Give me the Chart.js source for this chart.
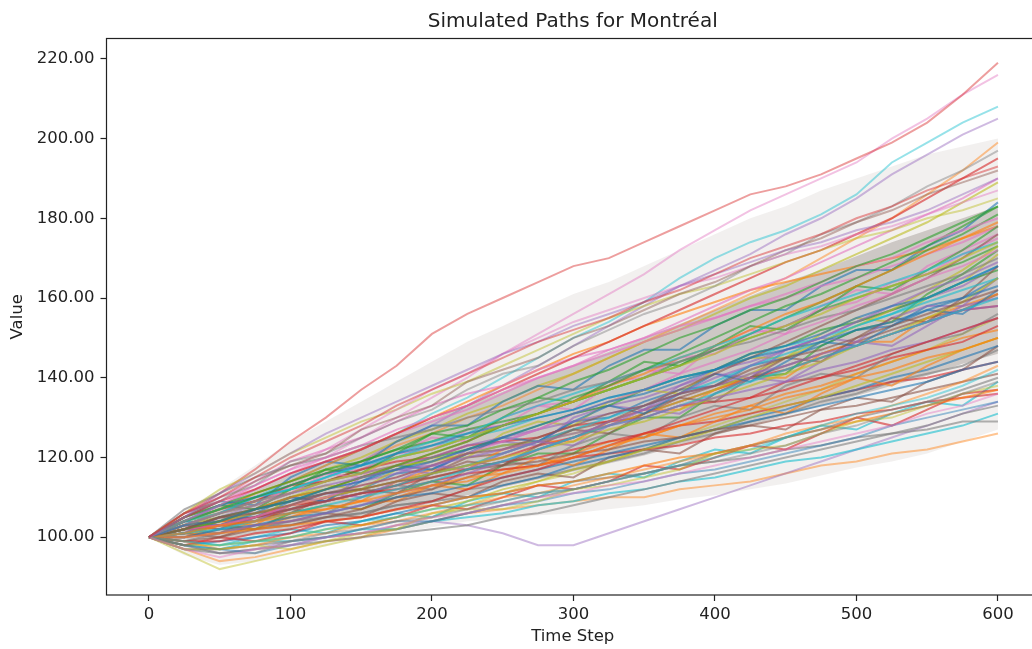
<!DOCTYPE html>
<html>
<head>
<meta charset="utf-8">
<title>Simulated Paths for Montréal</title>
<script src="https://cdn.jsdelivr.net/npm/chart.js@4.4.1/dist/chart.umd.min.js"></script>
<style>
  html, body { margin: 0; padding: 0; background: #fff; overflow: hidden; }
  canvas { display: block; }
</style>
</head>
<body>
<canvas id="myChart" width="1040" height="649"></canvas>
<script>
const steps = [0,25,50,75,100,125,150,175,200,225,250,275,300,325,350,375,400,425,450,475,500,525,550,575,600];

const xTicks = [0,100,200,300,400,500,600];
const yTicks = [100,120,140,160,180,200,220];

// spread of the dense bundle of paths (outer edge and the thick core)
const bandOuterTop    = [100,107,112,118,124,129,134,139,144,149,153,157,161,164,168,172,176,180,183,187,190,193,196,198,200];
const bandOuterBottom = [100,95.5,93,94,96.5,98,99.5,101,102.5,104,104.5,105.5,106,107,108,109.5,110.5,112,113.5,115.5,117.5,119,121,124,127];
const bandCoreTop     = [100,104.5,108,112,116,119,122.5,126,129.5,133,136.5,140,143,146.5,150,153.5,157,160.5,164,167,170.5,174,177,180,183];
const bandCoreBottom  = [100,99.5,99.5,100.5,102,103.5,105,106.5,108.5,110.5,112.5,114.5,116.5,118.5,120.5,123,125.5,128,130.5,133,135.5,138,140.5,143.5,146];

// paths that stick out of the bundle
const pathTopRed    = [100,106,111,117,124,130,137,143,151,156,160,164,168,170,174,178,182,186,188,191,195,199,204,211,219];
const pathTopPink   = [100,104,108,112,116,120,125,130,135,140,146,151,156,161,166,172,177,182,186,190,194,200,205,211,216];
const pathTopCyan   = [100,103,106,110,114,118,122,126,131,135,140,145,150,154,159,165,170,174,177,181,186,194,199,204,208];
const pathTopPurple = [100,102,105,108,111,115,119,124,128,133,138,143,148,153,158,163,167,171,176,180,185,191,196,201,205];
const pathTopOrange = [100,103,106,109,113,116,119,123,126,130,133,137,141,145,149,153,157,161,165,170,175,180,186,192,199];
const pathLowPurple = [100,98,96,97,99,100,101,103,104,103,101,98,98,101,104,107,110,113,116,119,122,125,128,131,134];
const pathLowOrange = [100,97,94,95,97,99,100,102,104,106,107,108,109,110,110,112,113,114,116,118,119,121,122,124,126];
const pathEarlyDip  = [100,96,92,94,96,98,100,103,105,108,111,114,116,119,122,125,128,131,134,137,141,144,147,151,155];

// paths along the upper and lower fringe of the bundle
const pathsUpper = [
  [100,106,110,115,120,124,128,133,137,141,145,149,152,155,159,162,166,170,173,176,180,183,187,190,193],
  [100,105,111,116,121,126,130,134,138,142,146,149,153,156,159,163,166,169,172,174,177,179,182,186,190],
  [100,106,109,114,118,121,127,130,133,139,142,145,150,153,157,161,164,168,172,175,179,182,186,189,192],
  [100,104,108,113,117,122,127,132,137,141,146,150,154,157,160,163,165,168,171,173,176,178,181,184,187],
  [100,105,110,113,119,121,125,129,132,137,141,143,148,152,156,159,163,168,171,176,179,183,188,192,197],
  [100,106,112,116,121,125,129,132,136,139,143,147,151,155,158,161,163,166,169,172,175,177,180,182,185]
];
const pathsLower = [
  [100,97,95,97,98,100,101,103,105,106,108,110,111,113,114,116,118,120,122,124,126,128,131,133,136],
  [100,98,96,96,99,101,102,104,105,107,109,111,112,114,116,118,119,121,123,126,128,131,133,136,139],
  [100,97,97,98,97,99,101,102,106,107,107,109,112,113,115,117,121,122,123,126,129,130,133,136,138],
  [100,99,98,99,100,102,104,105,107,108,109,111,112,114,116,118,120,122,125,128,131,133,135,138,142],
  [100,98,97,96,98,100,102,104,104,106,108,109,111,112,114,116,117,119,121,123,125,128,130,132,134],
  [100,99,97,98,100,101,103,104,106,108,110,111,113,115,117,119,121,123,126,128,130,133,136,139,143]
];

// paths inside the bundle
const paths = [
  [100,103,104,107,109,112,114,117,119,122,125,128,131,134,136,139,142,146,148,151,155,158,160,164,168],
  [100,101,103,104,106,107,109,111,113,115,116,118,120,123,125,128,130,132,135,137,140,142,145,147,150],
  [100,104,107,110,113,116,119,122,126,128,132,135,139,142,146,150,153,157,160,164,168,171,175,179,183],
  [100,99,99,101,102,104,105,107,109,112,115,117,120,123,126,129,132,135,137,140,143,146,149,152,155],
  [100,103,106,108,111,113,115,117,118,120,122,124,126,128,130,133,135,137,139,142,144,147,149,152,155],
  [100,102,105,106,108,111,113,115,118,121,122,125,128,131,133,136,138,142,145,147,150,153,156,159,162],
  [100,106,109,113,117,120,123,127,130,133,137,140,143,146,149,152,155,158,161,164,168,170,174,177,180],
  [100,97,97,98,99,100,101,102,104,106,108,110,112,114,116,118,121,123,125,127,130,132,134,137,140],
  [100,103,106,108,111,114,116,120,122,125,128,131,134,137,140,143,146,150,153,156,160,163,166,170,174],
  [100,101,102,104,106,108,110,112,114,117,119,122,125,128,130,133,136,139,142,145,148,151,154,157,160],
  [100,104,108,110,113,116,118,121,123,126,128,130,132,135,137,140,142,145,147,149,152,154,157,160,163],
  [100,100,101,102,103,104,105,107,108,110,111,113,114,116,118,120,121,123,125,127,129,131,133,135,137],
  [100,102,104,107,109,112,115,118,121,124,128,131,135,138,142,146,150,154,158,161,165,169,173,178,183],
  [100,105,109,112,116,119,122,126,130,133,137,141,145,149,153,157,161,165,169,172,176,180,185,190,195],
  [100,100,101,103,104,106,108,111,113,116,119,122,125,129,132,136,140,143,147,150,154,158,162,165,169],
  [100,102,105,107,109,111,112,114,115,117,118,119,121,122,124,125,127,128,130,132,133,135,137,139,141],
  [100,102,103,105,108,110,113,115,118,121,124,127,131,134,137,141,144,147,151,154,158,161,165,168,172],
  [100,107,111,115,118,120,123,125,127,130,132,134,137,139,142,144,147,149,152,155,157,160,163,166,170],
  [100,98,98,99,100,102,103,105,107,109,112,114,117,119,122,124,127,130,133,135,138,141,144,147,150],
  [100,104,106,110,112,115,118,121,124,126,130,133,136,139,142,145,148,151,155,158,161,164,167,171,174],
  [100,100,102,103,105,106,108,110,111,113,115,117,119,121,123,125,127,129,131,133,135,137,139,142,144],
  [100,103,104,107,110,112,115,118,121,124,128,131,134,138,141,145,148,152,156,159,163,167,171,175,179],
  [100,105,108,111,114,117,119,122,124,127,129,131,134,137,140,143,147,151,155,159,163,167,172,176,181],
  [100,102,103,105,107,109,111,112,114,116,117,118,120,121,122,123,125,126,128,129,131,132,134,135,136],
  [100,103,106,109,111,114,116,118,120,123,125,127,129,131,133,136,138,141,143,146,148,151,154,157,158],
  [100,99,100,102,103,105,107,110,112,115,118,122,125,129,133,137,141,145,149,153,157,161,165,170,176],
  [100,105,108,112,116,119,122,126,129,132,136,140,143,147,150,154,158,162,165,169,173,177,181,185,190],
  [100,97,96,97,98,99,100,101,102,103,105,106,108,110,112,114,116,118,120,122,124,126,128,131,133],
  [100,102,104,106,108,110,112,114,116,118,120,122,124,127,129,132,135,138,141,144,148,151,155,159,165],
  [100,104,107,110,112,115,118,120,123,125,127,130,132,135,137,140,142,145,148,150,153,156,159,162,165],
  [100,104,103,106,110,109,114,118,117,121,125,124,129,133,131,136,141,139,144,149,148,153,157,156,162],
  [100,100,103,102,105,108,107,110,113,112,116,120,118,122,126,125,129,133,131,136,140,138,143,147,150],
  [100,105,108,107,112,117,116,121,126,125,130,135,134,139,144,143,148,153,152,157,163,162,167,172,178],
  [100,98,100,99,101,104,103,105,108,107,110,113,112,114,118,117,120,123,122,126,130,128,132,136,137],
  [100,101,105,104,108,111,110,114,118,117,121,124,123,128,132,131,136,140,139,144,149,148,153,158,160],
  [100,103,102,105,106,110,112,111,116,119,118,123,127,126,131,135,134,140,145,144,150,155,154,160,168],
  [100,106,110,114,119,122,125,129,133,136,138,142,145,147,150,153,155,158,160,163,165,168,171,174,178],
  [100,99,101,103,103,105,106,108,109,110,111,113,114,115,116,118,119,120,122,123,125,126,127,129,129],
  [100,104,106,109,111,114,116,118,119,121,123,124,126,128,131,134,137,141,145,149,153,157,162,167,173],
  [100,101,103,105,107,109,111,113,116,118,121,124,127,130,133,136,139,143,146,149,153,156,160,164,168],
  [100,98,99,100,101,103,104,106,108,110,113,115,118,120,122,125,127,130,132,135,137,140,142,145,148],
  [100,104,107,111,114,118,122,126,130,134,138,142,146,149,153,156,159,162,164,166,168,170,172,175,178],
  [100,102,105,107,110,112,115,117,120,122,125,128,131,133,137,140,142,146,148,152,154,157,160,164,167],
  [100,102,104,105,108,109,111,113,115,117,119,120,122,124,126,128,129,131,133,135,137,139,140,142,144],
  [100,103,102,107,110,109,115,117,116,122,124,123,130,133,132,138,141,140,147,150,149,155,158,158,165],
  [100,101,100,103,104,106,105,109,111,110,114,116,115,120,122,121,126,128,127,132,135,134,139,142,148],
  [100,104,108,107,113,116,115,121,125,124,130,133,132,138,142,141,148,152,151,158,162,161,168,172,176],
  [100,102,101,105,107,106,110,113,112,117,119,118,123,126,125,130,133,132,138,141,140,146,149,151,156],
  [100,103,105,104,110,113,112,117,120,120,126,129,128,134,137,136,142,145,145,151,155,154,160,164,171],
  [100,99,98,100,102,101,104,106,105,109,111,110,114,116,115,119,122,121,125,128,127,131,134,133,139],
  [100,105,109,108,115,119,118,124,128,128,134,138,137,143,147,147,153,157,157,163,167,167,173,177,184],
  [100,102,104,103,108,110,109,114,117,117,122,124,124,129,132,132,137,140,140,146,149,149,155,158,161],
  [100,101,103,102,106,108,107,111,114,113,118,121,121,126,130,130,136,140,141,148,152,154,161,166,172],
  [100,104,107,109,113,114,117,119,120,123,124,125,128,129,130,133,134,135,139,140,142,145,147,149,153],
  [100,103,105,107,109,112,114,116,119,122,124,127,131,133,135,138,142,144,147,150,154,157,160,163,168],
  [100,101,104,106,107,110,112,114,116,120,121,124,127,129,132,135,138,140,143,146,149,152,155,157,161],
  [100,104,106,110,111,116,117,121,122,127,128,133,134,139,140,145,146,151,153,157,159,164,166,171,175],
  [100,100,102,102,104,105,106,108,109,112,113,115,117,119,121,124,126,129,131,134,136,139,141,143,147],
  [100,104,107,111,114,117,120,124,127,131,134,138,141,145,149,152,156,160,163,167,171,175,179,184,189],
  [100,98,97,99,99,100,102,102,104,105,106,108,109,111,112,114,115,117,119,120,122,124,126,128,131],
  [100,102,105,105,109,111,112,116,117,121,123,124,129,130,134,137,138,143,145,148,152,153,158,160,165],
  [100,101,101,104,105,107,109,109,113,114,117,118,121,124,125,128,131,133,136,138,141,144,147,150,152],
  [100,103,106,109,112,114,117,120,122,125,128,131,134,137,140,144,147,150,153,157,160,163,166,169,173],
  [100,102,103,104,107,109,111,113,116,118,120,123,125,128,131,134,137,140,142,145,148,151,154,157,158]
];

// matplotlib tab10 cycle
const palette = ['31,119,180','255,127,14','44,160,44','214,39,40','148,103,189','140,86,75','227,119,194','127,127,127','188,189,34','23,190,207'];

function toPoints(values) {
  return steps.map((t, i) => ({x: t, y: values[i]}));
}

function pathSet(values, rgb, alpha) {
  return {
    data: toPoints(values),
    borderColor: 'rgba(' + rgb + ',' + alpha + ')',
    borderWidth: 2,
    pointRadius: 0,
    fill: false,
    tension: 0,
    order: 0
  };
}

const datasets = [
  {data: toPoints(bandOuterTop), fill: '+1', backgroundColor: 'rgba(170,155,150,0.15)', borderWidth: 0, pointRadius: 0, order: 20},
  {data: toPoints(bandOuterBottom), fill: false, borderWidth: 0, pointRadius: 0, order: 20},
  {data: toPoints(bandCoreTop), fill: '+1', backgroundColor: 'rgba(120,105,100,0.3)', borderWidth: 0, pointRadius: 0, order: 19},
  {data: toPoints(bandCoreBottom), fill: false, borderWidth: 0, pointRadius: 0, order: 19}
];

pathsUpper.forEach((p, i) => datasets.push(pathSet(p, palette[(i + 3) % palette.length], 0.45)));
pathsLower.forEach((p, i) => datasets.push(pathSet(p, palette[(i + 6) % palette.length], 0.45)));
paths.forEach((p, i) => datasets.push(pathSet(p, palette[i % palette.length], 0.6)));

datasets.push(pathSet(pathTopRed, palette[3], 0.45));
datasets.push(pathSet(pathTopPink, palette[6], 0.45));
datasets.push(pathSet(pathTopCyan, palette[9], 0.45));
datasets.push(pathSet(pathTopPurple, palette[4], 0.45));
datasets.push(pathSet(pathTopOrange, palette[1], 0.45));
datasets.push(pathSet(pathLowPurple, palette[4], 0.45));
datasets.push(pathSet(pathLowOrange, palette[1], 0.45));
datasets.push(pathSet(pathEarlyDip, palette[8], 0.45));

// box round the plot like matplotlib's spines
const frame = {
  id: 'frame',
  afterDraw(chart) {
    const {ctx, chartArea: a} = chart;
    ctx.save();
    ctx.strokeStyle = '#222';
    ctx.lineWidth = 1.2;
    ctx.strokeRect(a.left, a.top, a.right - a.left, a.bottom - a.top);
    ctx.restore();
  }
};

Chart.defaults.font.family = 'DejaVu Sans';
Chart.defaults.color = '#222';

const tickFont = {family: 'DejaVu Sans', size: 16.5};
const tickGrid = {display: true, drawOnChartArea: false, drawTicks: true, tickLength: 6, tickColor: '#222', tickWidth: 1.2};

new Chart(document.getElementById('myChart'), {
  type: 'line',
  data: {datasets: datasets},
  options: {
    responsive: false,
    animation: false,
    layout: {padding: {left: 0, right: 1, top: 0, bottom: 0}},
    plugins: {
      legend: {display: false},
      tooltip: {enabled: false},
      title: {
        display: true,
        text: 'Simulated Paths for Montréal',
        fullSize: false,
        color: '#222',
        font: {family: 'DejaVu Sans', size: 20, weight: 'normal'},
        padding: {top: 10, bottom: 4.5}
      }
    },
    scales: {
      x: {
        type: 'linear',
        min: -30,
        max: 629,
        afterBuildTicks: s => { s.ticks = xTicks.map(v => ({value: v})); },
        afterFit: s => { s.height = 54; },
        grid: tickGrid,
        border: {display: false},
        ticks: {font: tickFont, color: '#222', padding: 4, maxRotation: 0, autoSkip: false},
        title: {display: true, text: 'Time Step', color: '#222', font: tickFont, padding: {top: 0, bottom: 2}}
      },
      y: {
        type: 'linear',
        min: 85.5,
        max: 225.1,
        afterBuildTicks: s => { s.ticks = yTicks.map(v => ({value: v})); },
        afterFit: s => { s.width = 106.5; },
        grid: tickGrid,
        border: {display: false},
        ticks: {font: tickFont, color: '#222', padding: 6, callback: v => v.toFixed(2)},
        title: {display: true, text: 'Value', color: '#222', font: tickFont, padding: {top: 8, bottom: 0}}
      }
    }
  },
  plugins: [frame]
});
</script>
</body>
</html>
